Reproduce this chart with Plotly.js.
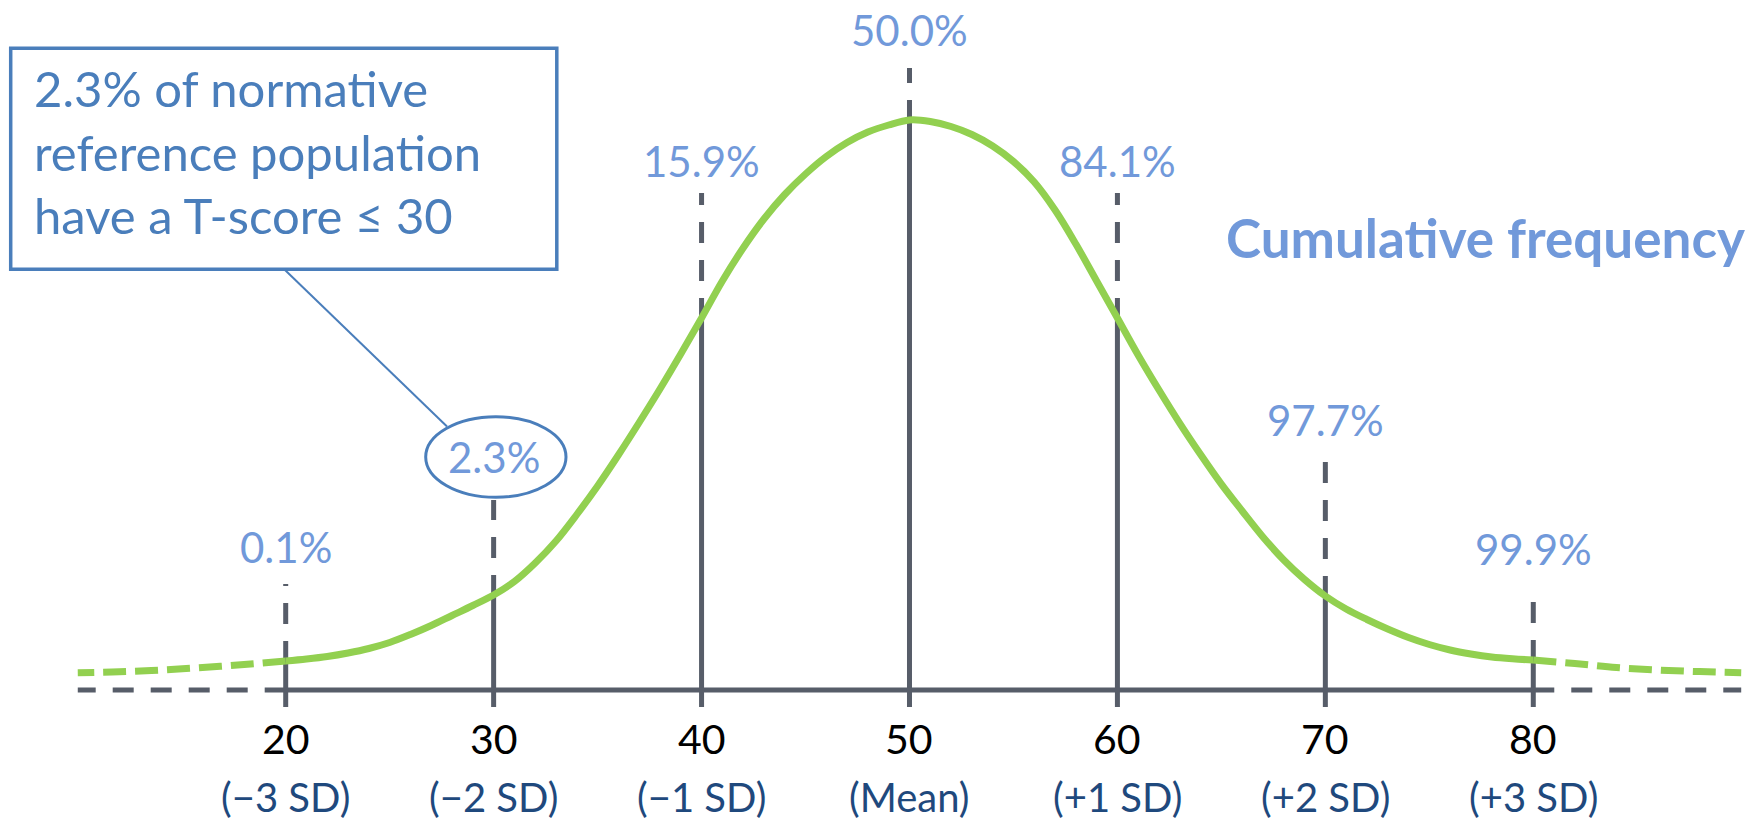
<!DOCTYPE html>
<html>
<head>
<meta charset="utf-8">
<script src="https://cdn.plot.ly/plotly-3.0.1.min.js"></script>
<style>
  html, body { margin: 0; padding: 0; background: #ffffff; }
  #chart { width: 1757px; height: 821px; }
</style>
</head>
<body>
<div id="chart"></div>
<script>
// ---- Data -------------------------------------------------------------
// T-score sample positions of the bell curve
const tScore = [10, 12, 14, 16, 18,
  20, 21, 22, 23, 24, 25, 26, 27, 28, 29,
  30, 31, 32, 33, 34, 35, 36, 37, 38, 39,
  40, 41, 42, 43, 44, 45, 46, 47, 48, 49,
  50, 51, 52, 53, 54, 55, 56, 57, 58, 59,
  60, 61, 62, 63, 64, 65, 66, 67, 68, 69,
  70, 71, 72, 73, 74, 75, 76, 77, 78, 79,
  80, 82, 84, 86, 88, 90];

// Height of the frequency curve at each T-score (arbitrary units, peak = 570)
const curveHeight = [17.3, 18.2, 20.0, 22.5, 25.5,
  29.0, 31.0, 33.5, 37.0, 41.5, 47.5, 55.5, 64.5, 74.5, 84.5,
  95.0, 108.5, 127.0, 149.0, 175.5, 204.0, 235.0, 267.5, 301.0, 336.0,
  372.0, 409.0, 442.0, 471.0, 495.5, 516.0, 533.5, 547.5, 558.0, 565.0,
  570.0, 568.5, 563.5, 555.5, 544.0, 528.5, 508.0, 480.0, 446.0, 409.0,
  372.0, 334.8, 300.0, 266.7, 235.5, 205.9, 179.0, 153.0, 130.0, 110.5,
  94.0, 81.0, 70.5, 61.0, 52.5, 45.5, 40.0, 36.0, 33.0, 31.2,
  30.0, 26.5, 22.5, 20.0, 18.4, 17.3];

// Marked T-scores and their labels
const tickValues = [20, 30, 40, 50, 60, 70, 80];
const tickSdLabels = ['(\u22123 SD)', '(\u22122 SD)', '(\u22121 SD)', '(Mean)', '(+1 SD)', '(+2 SD)', '(+3 SD)'];

// Cumulative frequency (%) at each marked T-score
const cumulativePct = [0.1, 2.3, 15.9, 50.0, 84.1, 97.7, 99.9];

const calloutLines = ['2.3% of normative', 'reference population', 'have a T-score \u2264 30'];
const sideTitle = 'Cumulative frequency';

// ---- Geometry / style ---------------------------------------------------
const W = 1757, H = 821;
const PX_PER_UNIT = 20.793;       // horizontal scale, px per T-score point
const X_LEFT = 6.26;              // T-score at the left page edge
const BASE_PX = 690;              // page row of the baseline; 1 y unit = 1 px
const xAt = px => X_LEFT + px / PX_PER_UNIT;
const yAt = py => BASE_PX - py;

const guideTop = [106, 190, 497, 622, 497, 228, 89];     // top of each dashed guide
const labelMid = [143, 233, 529, 660, 529, 270, 141];    // centre of each % label

const GRAY = '#575d69';
const GREEN = '#92d050';
const LABEL_BLUE = '#7199da';
const CALLOUT_BLUE = '#4a7ebb';
const SD_BLUE = '#1f497d';
const FONT = 'Lato, "Open Sans", sans-serif';

const traces = [];
const lineTrace = (x, y, color, width, dash, shape) => ({
  type: 'scatter', mode: 'lines', x, y, hoverinfo: 'skip', showlegend: false,
  line: { color, width, dash: dash || 'solid', shape: shape || 'linear', smoothing: 1 }
});

// Baseline: solid across the marked range, dashed beyond it
const tFirst = tickValues[0], tLast = tickValues[tickValues.length - 1];
const tMin = tScore[0], tMax = tScore[tScore.length - 1];
traces.push(lineTrace([tFirst, tLast], [0, 0], GRAY, 5));
traces.push(lineTrace([tFirst, tMin], [0, 0], GRAY, 5, '21px,17px'));
traces.push(lineTrace([tLast, tMax], [0, 0], GRAY, 5, '21px,17px'));

// Guides: solid below the curve, dashed above it
tickValues.forEach((t, i) => {
  const h = curveHeight[tScore.indexOf(t)];
  traces.push(lineTrace([t, t], [-17, h + 20], GRAY, 5));
  traces.push(lineTrace([t, t], [h + 37, guideTop[i]], GRAY, 5, '21px,17px'));
});

// Bell curve: solid between the outer marks, dashed tails
const iFirst = tScore.indexOf(tFirst), iLast = tScore.indexOf(tLast);
traces.push(lineTrace(tScore.slice(iFirst, iLast + 1), curveHeight.slice(iFirst, iLast + 1), GREEN, 7, 'solid', 'spline'));
traces.push(lineTrace(tScore.slice(0, iFirst + 1).reverse(), curveHeight.slice(0, iFirst + 1).reverse(), GREEN, 7, '23px,9px', 'spline'));
traces.push(lineTrace(tScore.slice(iLast), curveHeight.slice(iLast), GREEN, 7, '23px,9px', 'spline'));

// ---- Annotations ----------------------------------------------------------
const annotations = [];
tickValues.forEach((t, i) => {
  annotations.push({
    x: t, y: labelMid[i], xref: 'x', yref: 'y', showarrow: false,
    xanchor: 'center', yanchor: 'middle',
    text: cumulativePct[i].toFixed(1) + '%',
    font: { family: FONT, size: 42, color: LABEL_BLUE }
  });
  annotations.push({
    x: t, y: yAt(738), xref: 'x', yref: 'y', showarrow: false,
    xanchor: 'center', yanchor: 'middle', text: String(t),
    font: { family: FONT, size: 41, color: '#000000' }
  });
  annotations.push({
    x: t, y: yAt(797), xref: 'x', yref: 'y', showarrow: false,
    xanchor: 'center', yanchor: 'middle', text: tickSdLabels[i],
    font: { family: FONT, size: 40, color: SD_BLUE }
  });
});

annotations.push({
  x: xAt(32), y: yAt(151), xref: 'x', yref: 'y', showarrow: false,
  xanchor: 'left', yanchor: 'middle', align: 'left',
  text: calloutLines.join('<br>'),
  font: { family: FONT, size: 49, color: CALLOUT_BLUE }
});

annotations.push({
  x: xAt(1485), y: yAt(237), xref: 'x', yref: 'y', showarrow: false,
  xanchor: 'center', yanchor: 'middle', text: '<b>' + sideTitle + '</b>',
  font: { family: FONT, size: 53, color: LABEL_BLUE }
});

// ---- Callout box, connector and ellipse ------------------------------------
const shapes = [
  { type: 'line', xref: 'x', yref: 'y', x0: xAt(285), y0: yAt(270), x1: xAt(447), y1: yAt(426.5),
    line: { color: CALLOUT_BLUE, width: 2 }, layer: 'below' },
  { type: 'rect', xref: 'x', yref: 'y', x0: xAt(10.7), x1: xAt(556.8), y0: yAt(269.3), y1: yAt(48.3),
    line: { color: CALLOUT_BLUE, width: 3.5 }, fillcolor: 'rgba(0,0,0,0)' },
  { type: 'circle', xref: 'x', yref: 'y', x0: xAt(425.7), x1: xAt(566), y0: yAt(497.3), y1: yAt(416.7),
    line: { color: CALLOUT_BLUE, width: 3 }, fillcolor: 'rgba(0,0,0,0)' }
];

const layout = {
  width: W, height: H,
  margin: { l: 0, r: 0, t: 0, b: 0, pad: 0 },
  paper_bgcolor: '#ffffff', plot_bgcolor: '#ffffff',
  showlegend: false,
  xaxis: { range: [X_LEFT, X_LEFT + W / PX_PER_UNIT], visible: false, fixedrange: true },
  yaxis: { range: [BASE_PX - H, BASE_PX], visible: false, fixedrange: true },
  annotations, shapes
};

Plotly.newPlot('chart', traces, layout, { displayModeBar: false, staticPlot: true });
</script>
</body>
</html>
